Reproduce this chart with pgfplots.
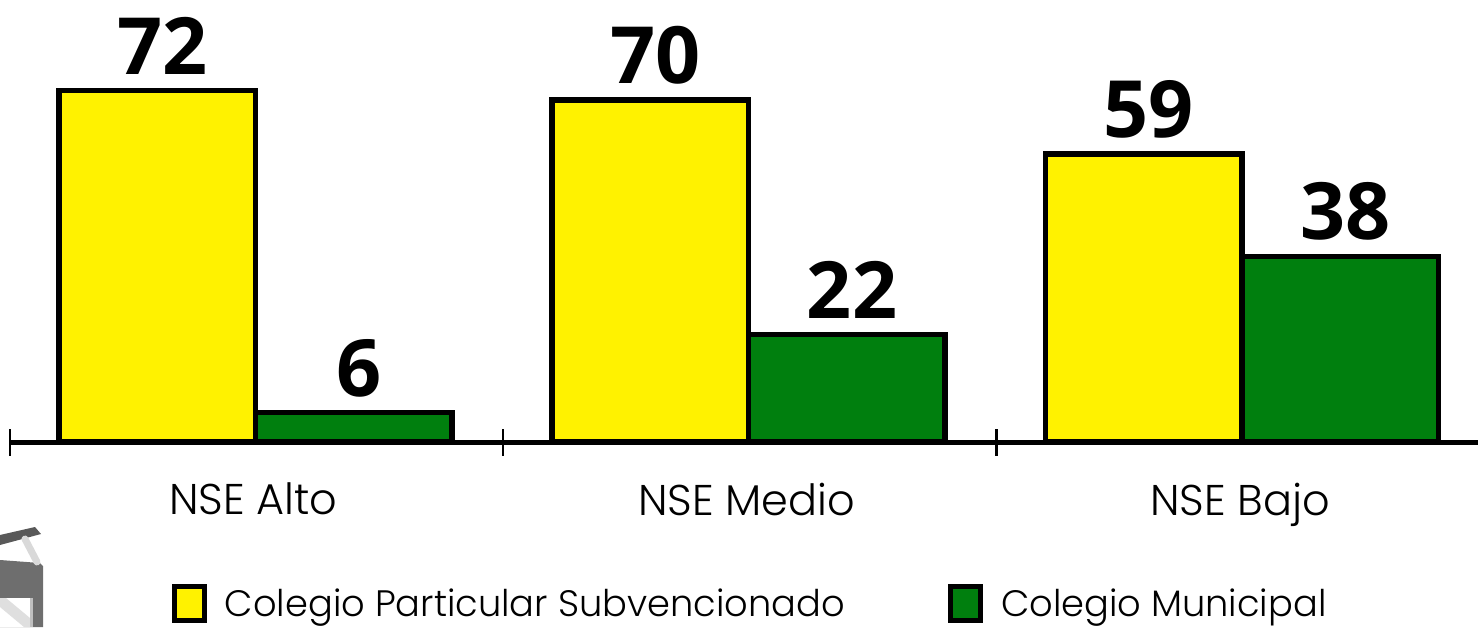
\documentclass[border=0pt]{standalone}
\usepackage{pgfplots}
\pgfplotsset{compat=1.18}
\usepackage{fontspec}
\setmainfont{Open Sans}
\newfontfamily\labfont{Poppins Light}
\definecolor{by}{HTML}{FFF200}
\definecolor{bg}{HTML}{007F0E}
\pgfplotstableread{
x y lab
0 72 72
1 70 70
2 59 59
}\tabA
\pgfplotstableread{
x y lab
0 6 6
1 22 22
2 38 38
}\tabB
\begin{document}
\begin{tikzpicture}[x=1pt,y=1pt]
\useasboundingbox (0,0) rectangle (1478,627);
% decorative icon, bottom left
\begin{scope}
\clip (0,0) rectangle (60,105);
\fill[black!57] (0,67) -- (40,64) -- (43,61) -- (43,0) -- (0,0) -- cycle;
\fill[white] (0,29) -- (30,29) -- (30,0) -- (0,0) -- cycle;
\fill[gray!25] (0,29) -- (6,29) -- (30,9) -- (30,0) -- (24,0) -- (0,20) -- cycle;
\fill[gray!50] (30,29) -- (33,29) -- (33,0) -- (30,0) -- cycle;
\fill[black!65] (0,82) -- (41,93) -- (35,100) -- (0,92) -- cycle;
\draw[gray!30,line width=7pt,line cap=round] (25,88) -- (37,65);
\end{scope}
\begin{axis}[
 at={(10pt,185pt)},anchor=south west,
 width=1468pt,height=442pt,scale only axis,
 xmin=-0.4977,xmax=2.4785,ymin=0,ymax=90.48,
 axis x line=bottom,axis y line=none,
 x axis line style={line width=5pt,-},
 clip=false,
 ybar=0pt,bar width=196.5pt,
 xtick={0,1,2},xticklabels={NSE Alto,NSE Medio,NSE Bajo},
 major x tick style={draw=none},
 minor xtick={-0.4977,0.5023,1.5023},
 minor x tick style={black,line width=2.5pt},
 minor tick length=27pt,
 tick align=center,
 xticklabel style={font=\labfont\fontsize{43}{43}\selectfont,text=black,yshift=-35pt,xshift=-2pt},
 point meta=explicit symbolic,
 nodes near coords,
 nodes near coords style={font=\bfseries\fontsize{79}{79}\selectfont,text=black,anchor=south,inner sep=0pt,yshift=13pt,xshift=5pt},
 legend columns=2,
 legend cell align=left,
 legend style={draw=none,fill=none,at={(0.1100,-0.366)},anchor=west,inner sep=0pt,font=\labfont\fontsize{36.8}{37}\selectfont,
   /tikz/every even column/.append style={column sep=101pt}},
 legend image code/.code={\draw[#1,line width=5pt,bar width=0pt] (0pt,-17pt) rectangle (30pt,17pt);\path (46pt,0pt);},
]
\addplot[draw=black,line width=5.5pt,fill=by] table[x=x,y=y,meta=lab]{\tabA};
\addlegendentry{Colegio Particular Subvencionado}
\addplot[draw=black,line width=5.5pt,fill=bg] table[x=x,y=y,meta=lab]{\tabB};
\addlegendentry{Colegio Municipal}
\end{axis}
\end{tikzpicture}
\end{document}
